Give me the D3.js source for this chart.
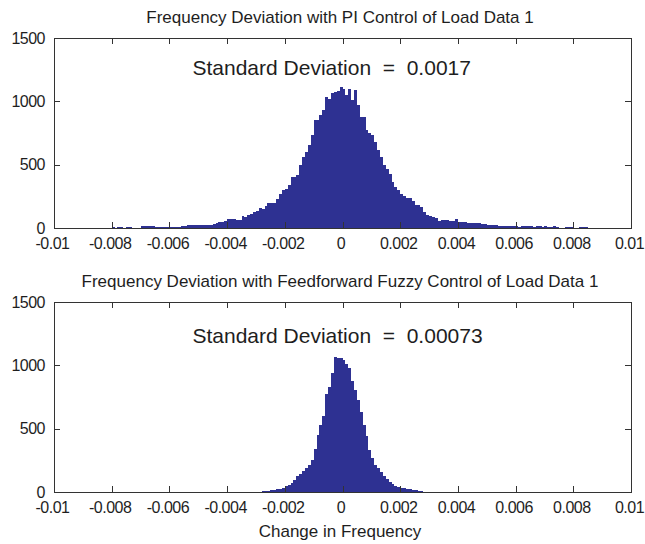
<!DOCTYPE html>
<html>
<head>
<meta charset="utf-8">
<script src="https://cdn.jsdelivr.net/npm/d3@7"></script>
<style>
  body { margin: 0; background: #fff; }
  text { font-family: "Liberation Sans", Arial, sans-serif; fill: #1e1e1e; }
  .axis path, .axis line { stroke: #333; shape-rendering: crispEdges; }
  .axis text { letter-spacing: -0.5px; }
</style>
</head>
<body>
<script>
const titles = [
  "Frequency Deviation with PI Control of Load Data 1",
  "Frequency Deviation with Feedforward Fuzzy Control of Load Data 1"
];
const sdLabels = ["Standard Deviation  =  0.0017", "Standard Deviation  =  0.00073"];
const xLabel = "Change in Frequency";
const xTicks = [-0.01, -0.008, -0.006, -0.004, -0.002, 0, 0.002, 0.004, 0.006, 0.008, 0.01];
const yTicks = [0, 500, 1000, 1500];
const binWidth = 0.0001;

// PI control histogram, first bin starts at -0.008
const piFirstBin = -0.008;
const piCounts = [
  8, 0, 8, 8, 0, 6, 6, 0, 0, 3,
  12, 15, 15, 15, 12, 10, 10, 10, 10, 10,
  10, 10, 10, 11, 12, 18, 22, 24, 24, 24,
  24, 25, 26, 26, 27, 30, 37, 45, 50, 55,
  71, 71, 71, 63, 63, 95, 89, 100, 110, 129,
  135, 155, 150, 175, 195, 195, 200, 232, 272, 300,
  311, 337, 403, 405, 416, 500, 560, 600, 653, 732,
  851, 856, 890, 930, 1035, 1022, 1062, 1074, 1080, 1114,
  1101, 1048, 1100, 1009, 1088, 969, 877, 877, 772, 750,
  732, 679, 614, 560, 495, 469, 430, 363, 324, 298,
  270, 250, 240, 234, 215, 185, 180, 163, 129, 103,
  92, 89, 82, 58, 63, 63, 63, 55, 55, 68,
  50, 50, 45, 42, 42, 37, 37, 37, 29, 29,
  24, 24, 24, 24, 14, 13, 12, 13, 14, 12,
  13, 11, 13, 12, 14, 12, 11, 13, 12, 10,
  12, 11, 10, 12, 10, 0, 0, 10, 10, 10,
  0, 0, 10, 10, 8
];

// feedforward fuzzy histogram, first bin starts at -0.0028
const fuzzyFirstBin = -0.0028;
const fuzzyCounts = [
  5, 8, 10, 12, 15, 20, 26, 32, 45, 58,
  72, 98, 124, 143, 163, 190, 216, 255, 340, 451,
  530, 600, 770, 830, 936, 1066, 1060, 1055, 1040, 1014,
  980, 880, 805, 726, 634, 530, 440, 334, 268, 216,
  190, 160, 130, 105, 82, 62, 48, 38, 33, 28,
  24, 20, 16, 12, 9, 6
];

const width = 645;
const height = 544;
const svg = d3.select("body").append("svg").attr("width", width).attr("height", height);

const left = 54, right = 631;
const barColor = "#2e3192";

const xScale = d3.scaleLinear().domain([-0.01, 0.01]).range([left, right]);
const fmt = d => d === 0 ? "0" : String(+d.toFixed(3));

const panels = [
  { top: 38, bottom: 228, title: titles[0], sd: sdLabels[0], sdY: 75, first: piFirstBin, counts: piCounts },
  { top: 302, bottom: 492, title: titles[1], sd: sdLabels[1], sdY: 343, first: fuzzyFirstBin, counts: fuzzyCounts }
];

panels.forEach(p => {
  const yScale = d3.scaleLinear().domain([0, 1500]).range([p.bottom, p.top]);
  const bins = p.counts.map((c, i) => ({ x0: p.first + i * binWidth, x1: p.first + (i + 1) * binWidth, count: c }));

  // bars, crisp so neighbouring bins merge into one solid shape
  svg.append("g").attr("shape-rendering", "crispEdges").selectAll("rect")
    .data(bins.filter(d => d.count > 0))
    .join("rect")
    .attr("x", d => xScale(d.x0))
    .attr("width", d => xScale(d.x1) - xScale(d.x0))
    .attr("y", d => yScale(d.count))
    .attr("height", d => yScale(0) - yScale(d.count))
    .attr("fill", barColor);

  // box with inward ticks on all sides
  const gx = svg.append("g").attr("class", "axis")
    .attr("transform", "translate(0," + p.bottom + ")")
    .call(d3.axisBottom(xScale).tickValues(xTicks).tickSizeInner(-6).tickSizeOuter(0).tickFormat(fmt));
  gx.selectAll("text").attr("y", 10).attr("dy", "0.71em").attr("dx", -2).attr("font-size", 16);

  svg.append("g").attr("class", "axis")
    .attr("transform", "translate(0," + p.top + ")")
    .call(d3.axisTop(xScale).tickValues(xTicks).tickSizeInner(-6).tickSizeOuter(0).tickFormat(""));

  const gy = svg.append("g").attr("class", "axis")
    .attr("transform", "translate(" + left + ",0)")
    .call(d3.axisLeft(yScale).tickValues(yTicks).tickSizeInner(-6).tickSizeOuter(0).tickFormat(d3.format("d")));
  gy.selectAll("text").attr("x", -9).attr("font-size", 16);

  svg.append("g").attr("class", "axis")
    .attr("transform", "translate(" + right + ",0)")
    .call(d3.axisRight(yScale).tickValues(yTicks).tickSizeInner(-6).tickSizeOuter(0).tickFormat(""));

  svg.selectAll(".axis text").attr("fill", "#1e1e1e").attr("font-family", "Liberation Sans, Arial, sans-serif");

  svg.append("text")
    .attr("x", 340).attr("y", p.top - 15)
    .attr("text-anchor", "middle").attr("font-size", 17)
    .text(p.title);

  svg.append("text")
    .attr("x", xScale(-0.0052)).attr("y", p.sdY)
    .attr("font-size", 21)
    .style("white-space", "pre")
    .text(p.sd);
});

svg.append("text")
  .attr("x", 340).attr("y", 537)
  .attr("text-anchor", "middle").attr("font-size", 17)
  .text(xLabel);
</script>
</body>
</html>
